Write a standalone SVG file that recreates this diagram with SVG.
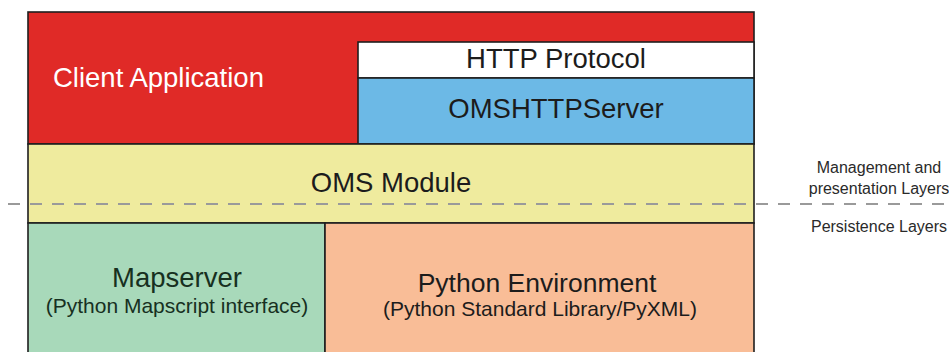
<svg xmlns="http://www.w3.org/2000/svg" width="949" height="352" viewBox="0 0 949 352">
<style>
.box{stroke:#1e1e1e;stroke-width:1.6}
.t{font-family:"Liberation Sans",Arial,sans-serif;fill:#1c1c1c}
.big{font-size:27.5px}
.sub{font-size:21px}
.side{font-family:"Liberation Sans",Arial,sans-serif;font-size:16px;fill:#2a2a2a;text-anchor:middle}
.dash{stroke:#9a9a9a;stroke-width:2;stroke-dasharray:12 10;fill:none}
</style>
<rect width="949" height="352" fill="#ffffff"/>
<g id="client-application">
<rect class="box" x="28" y="12" width="726" height="132" fill="#e02a27"/>
<text class="t big" x="53" y="87" style="fill:#ffffff">Client Application</text>
</g>
<g id="http-protocol">
<rect class="box" x="358" y="42" width="396" height="36" fill="#ffffff"/>
<text class="t big" x="556" y="68" text-anchor="middle">HTTP Protocol</text>
</g>
<g id="omshttpserver">
<rect class="box" x="358" y="78" width="396" height="66" fill="#6cb9e6"/>
<text class="t big" x="556" y="118" text-anchor="middle">OMSHTTPServer</text>
</g>
<g id="oms-module">
<rect class="box" x="28" y="144" width="726" height="79" fill="#efeb9e"/>
<text class="t big" x="391" y="192" text-anchor="middle">OMS Module</text>
</g>
<g id="mapserver">
<rect class="box" x="28" y="223" width="297" height="140" fill="#a8d9ba"/>
<text class="t big" x="177" y="287" text-anchor="middle" style="fill:#17301f">Mapserver</text>
<text class="t sub" x="177" y="313" text-anchor="middle" style="fill:#17301f">(Python Mapscript interface)</text>
</g>
<g id="python-environment">
<rect class="box" x="325" y="223" width="429" height="140" fill="#f9bd97"/>
<text class="t" x="537" y="292" text-anchor="middle" style="font-size:26.5px">Python Environment</text>
<text class="t sub" x="540" y="316" text-anchor="middle">(Python Standard Library/PyXML)</text>
</g>
<g id="connectors">
<line class="dash" x1="8" y1="204" x2="949" y2="204"/>
</g>
<g id="layer-labels">
<text class="side" x="879" y="173">Management and</text>
<text class="side" x="879" y="194">presentation Layers</text>
<text class="side" x="879" y="232">Persistence Layers</text>
</g>
</svg>
